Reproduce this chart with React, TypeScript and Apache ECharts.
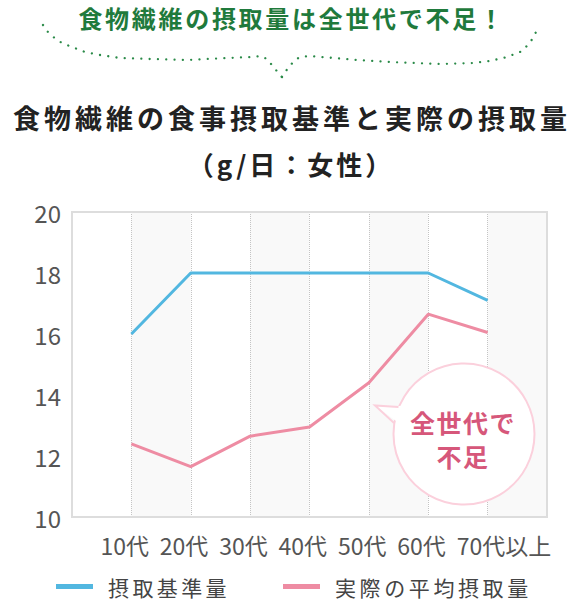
import * as echarts from 'echarts';
import { useEffect, useRef } from 'react';

const ages = ['10代', '20代', '30代', '40代', '50代', '60代', '70代以上'];
const standardIntake = [16, 18, 18, 18, 18, 18, 17.1];
const actualIntake = [12.4, 11.65, 12.65, 12.95, 14.4, 16.65, 16.05];
const yTicks = [10, 12, 14, 16, 18, 20];
const seriesNames = ['摂取基準量', '実際の平均摂取量'];
const headline = '食物繊維の摂取量は全世代で不足！';
const title = '食物繊維の食事摂取基準と実際の摂取量';
const subtitle = '（g/日：女性）';
const callout = '全世代で\n不足';

const FONT = "'Noto Sans CJK JP', 'Noto Sans', sans-serif";

// letter spacing of the original (css), applied to the svg texts after render
const spacing: Record<string, number> = {
  [title]: 4,
  [headline]: 2.7,
  [subtitle]: 3,
  [seriesNames[0]]: 3.4,
  [seriesNames[1]]: 3.6,
  '全世代で': 1.5,
  '不足': 1.5,
};

// dotted brace under the headline
const braceLeft = [
  [43, 25], [47, 31], [51, 35], [56, 39], [62, 43], [72, 47], [85, 52], [100, 55],
  [120, 58], [150, 59], [187, 60], [227, 58], [253, 57], [261, 56], [267, 59],
  [276, 70], [282, 77],
];
const braceRight = [
  [282, 77], [288, 68], [295, 60], [300, 57], [310, 56], [357, 60], [390, 62],
  [440, 64], [473, 63], [490, 61], [507, 57], [520, 52], [528, 45], [533, 38], [536, 32],
];

const pad = (a: number[]) => [null, ...a, null];

export default function App() {
  const chartRef = useRef<HTMLDivElement>(null);

  useEffect(() => {
    if (!chartRef.current) return;
    const el = chartRef.current;
    const chart = echarts.init(el, null, { renderer: 'svg' });

    const dot = { stroke: '#2a8a48', lineWidth: 2.3, lineDash: [0.01, 8.3], lineCap: 'round', fill: null };

    const option: echarts.EChartsOption = {
      animation: false,
      textStyle: { fontFamily: FONT },
      grid: {
        left: 72, right: 33, top: 212, bottom: 88,
        show: true, borderColor: '#dddddd', borderWidth: 2, z: 1,
        backgroundColor: 'transparent',
      },
      legend: {
        data: seriesNames,
        left: 56, top: 576, padding: 0,
        icon: 'rect',
        itemWidth: 37, itemHeight: 5, itemGap: 70,
        textStyle: { fontSize: 21, color: '#444', fontFamily: FONT, padding: [0, 0, 0, 10] },
      },
      xAxis: {
        type: 'category',
        data: ['', ...ages, ''],
        boundaryGap: false,
        axisLine: { show: false },
        axisTick: { show: false },
        axisLabel: {
          interval: 0, align: 'left', padding: [0, 0, 0, -31], margin: 16,
          fontSize: 23, color: '#555', fontFamily: FONT,
        },
        splitLine: { show: true, lineStyle: { type: 'dotted', color: '#c4c4c4', width: 1 } },
        splitArea: { show: true, areaStyle: { color: ['#ffffff', '#f9f9f9'] } },
      },
      yAxis: {
        type: 'value',
        min: yTicks[0], max: yTicks[yTicks.length - 1], interval: yTicks[1] - yTicks[0],
        axisLine: { show: false },
        axisTick: { show: false },
        axisLabel: { fontSize: 24, color: '#555', margin: 11, fontFamily: FONT },
        splitLine: { show: true, lineStyle: { type: 'dotted', color: '#c4c4c4', width: 1 } },
      },
      series: [
        {
          name: seriesNames[0], type: 'line', data: pad(standardIntake),
          symbol: 'none', color: '#52b7e0', lineStyle: { width: 3, color: '#52b7e0' }, z: 3,
        },
        {
          name: seriesNames[1], type: 'line', data: pad(actualIntake),
          symbol: 'none', color: '#ee8ca3', lineStyle: { width: 3, color: '#ee8ca3' }, z: 3,
        },
      ],
      graphic: [
        {
          type: 'text', x: 292, y: 17.5, z: 100,
          style: { text: headline, fill: '#1f7a3c', font: `bold 24px ${FONT}`, align: 'center', verticalAlign: 'middle' },
        },
        { type: 'polyline', z: 100, shape: { points: braceLeft }, style: dot },
        { type: 'polyline', z: 100, shape: { points: braceRight }, style: dot },
        {
          type: 'text', x: 292, y: 117, z: 100,
          style: { text: title, fill: '#222', font: `bold 27px ${FONT}`, align: 'center', verticalAlign: 'middle' },
        },
        {
          type: 'text', x: 291, y: 163, z: 100,
          style: { text: subtitle, fill: '#222', font: `bold 26px ${FONT}`, align: 'center', verticalAlign: 'middle' },
        },
        {
          type: 'circle', z: 100,
          shape: { cx: 464, cy: 434, r: 70.5 },
          style: { fill: '#ffffff', stroke: '#fbd0dc', lineWidth: 2 },
        },
        {
          type: 'polygon', z: 101,
          shape: { points: [[404, 406], [376, 406], [400, 424]] },
          style: { fill: '#ffffff', stroke: null },
        },
        {
          type: 'polyline', z: 102,
          shape: { points: [[398.5, 407], [375, 405.5], [394, 423]] },
          style: { stroke: '#fbd0dc', lineWidth: 2, fill: null },
        },
        {
          type: 'text', x: 463, y: 438.5, z: 103,
          style: {
            text: callout, fill: '#d6577a', font: `bold 25px ${FONT}`,
            align: 'center', verticalAlign: 'middle', lineHeight: 34,
          },
        },
      ],
    };

    const patch = () => {
      el.querySelectorAll('text').forEach((t) => {
        const s = spacing[(t.textContent || '').trim()];
        if (s) (t as SVGTextElement).style.letterSpacing = s + 'px';
      });
    };
    chart.on('finished', patch);
    chart.setOption(option);
    const raf = requestAnimationFrame(patch);

    return () => {
      cancelAnimationFrame(raf);
      chart.dispose();
    };
  }, []);

  return (
    <div
      ref={chartRef}
      style={{ position: 'absolute', left: 0, top: 0, width: 580, height: 605, background: '#fff' }}
    />
  );
}
